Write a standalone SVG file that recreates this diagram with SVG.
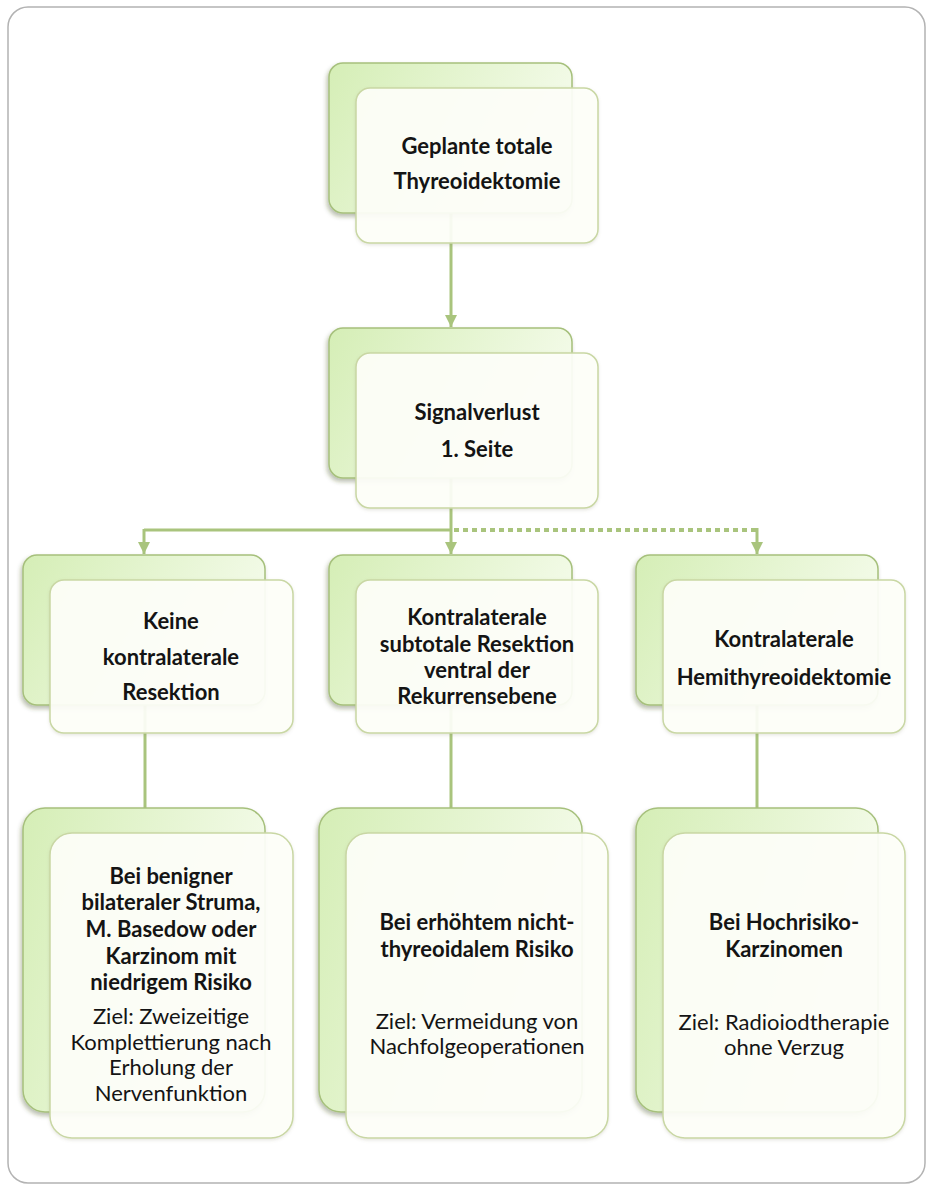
<svg xmlns="http://www.w3.org/2000/svg" width="933" height="1189" viewBox="0 0 933 1189">
<defs>
<linearGradient id="gBack" x1="0" y1="0" x2="1" y2="0.35">
<stop offset="0" stop-color="#d5eeb6"/>
<stop offset="1" stop-color="#f4fbea"/>
</linearGradient>
<filter id="shBack" x="-10%" y="-10%" width="120%" height="125%">
<feDropShadow dx="-1.5" dy="3" stdDeviation="2" flood-color="#3a4a20" flood-opacity="0.35"/>
</filter>
<filter id="shFront" x="-10%" y="-10%" width="120%" height="125%">
<feDropShadow dx="0" dy="1.5" stdDeviation="1.5" flood-color="#808060" flood-opacity="0.2"/>
</filter>
<marker id="arr" viewBox="0 0 10 10" refX="10" refY="5" markerWidth="4" markerHeight="4" orient="auto" markerUnits="strokeWidth">
<path d="M0,0 L10,5 L0,10 z" fill="#a9c47d"/>
</marker>
</defs>
<style>
.back{fill:url(#gBack);stroke:#a6c07c;stroke-width:1.5;filter:url(#shBack)}
.front{fill:#fefffa;fill-opacity:0.92;stroke:#c9d7a4;stroke-width:1.5;filter:url(#shFront)}
.conn{fill:none;stroke:#a9c47d;stroke-width:3}
.dash{stroke-dasharray:5 4;stroke-width:4}
.b{font-family:Lato,"Liberation Sans",sans-serif;font-weight:bold;font-size:22px;fill:#141414;text-anchor:middle}
.r{font-family:Lato,"Liberation Sans",sans-serif;font-weight:normal;font-size:22px;fill:#141414;text-anchor:middle}
</style>
<rect x="8" y="7" width="917" height="1176" rx="20" fill="#ffffff" stroke="#b3b3b3" stroke-width="1.5"/>
<g id="connectors">
<line class="conn" x1="451" y1="213" x2="451" y2="327" marker-end="url(#arr)"/>
<line class="conn" x1="451" y1="478" x2="451" y2="530"/>
<line class="conn" x1="144" y1="530" x2="451" y2="530"/>
<line class="conn dash" x1="454" y1="530" x2="757" y2="530"/>
<line class="conn" x1="144" y1="529" x2="144" y2="554" marker-end="url(#arr)"/>
<line class="conn" x1="451" y1="530" x2="451" y2="554" marker-end="url(#arr)"/>
<line class="conn" x1="757" y1="528" x2="757" y2="554" marker-end="url(#arr)"/>
<line class="conn" x1="145" y1="705" x2="145" y2="808"/>
<line class="conn" x1="451" y1="705" x2="451" y2="808"/>
<line class="conn" x1="757" y1="705" x2="757" y2="808"/>
</g>
<g id="node-start">
<rect class="back" x="329" y="63" width="243" height="150" rx="14"/>
<rect class="front" x="356" y="88" width="242" height="155" rx="14"/>
<text class="b" x="477" y="154">Geplante totale</text>
<text class="b" x="477" y="189">Thyreoidektomie</text>
</g>
<g id="node-signal">
<rect class="back" x="329" y="328" width="243" height="150" rx="14"/>
<rect class="front" x="356" y="353" width="242" height="155" rx="14"/>
<text class="b" x="477" y="420">Signalverlust</text>
<text class="b" x="477" y="457">1. Seite</text>
</g>
<g id="node-keine">
<rect class="back" x="23" y="555" width="242" height="150" rx="14"/>
<rect class="front" x="50" y="580" width="243" height="153" rx="14"/>
<text class="b" x="171" y="629">Keine</text>
<text class="b" x="171" y="665">kontralaterale</text>
<text class="b" x="171" y="700">Resektion</text>
</g>
<g id="node-subtotal">
<rect class="back" x="329" y="555" width="243" height="150" rx="14"/>
<rect class="front" x="356" y="580" width="242" height="153" rx="14"/>
<text class="b" x="477" y="625">Kontralaterale</text>
<text class="b" x="477" y="652">subtotale Resektion</text>
<text class="b" x="477" y="678">ventral der</text>
<text class="b" x="477" y="704">Rekurrensebene</text>
</g>
<g id="node-hemi">
<rect class="back" x="636" y="555" width="242" height="150" rx="14"/>
<rect class="front" x="663" y="580" width="242" height="153" rx="14"/>
<text class="b" x="784" y="647">Kontralaterale</text>
<text class="b" x="784" y="685">Hemithyreoidektomie</text>
</g>
<g id="node-benign">
<rect class="back" x="23" y="808" width="242" height="304" rx="22"/>
<rect class="front" x="50" y="833" width="243" height="305" rx="22"/>
<text class="b" x="171" y="884">Bei benigner</text>
<text class="b" x="171" y="910">bilateraler Struma,</text>
<text class="b" x="171" y="937">M. Basedow oder</text>
<text class="b" x="171" y="964">Karzinom mit</text>
<text class="b" x="171" y="990">niedrigem Risiko</text>
<text class="r" x="171" y="1024">Ziel: Zweizeitige</text>
<text class="r" x="171" y="1050">Komplettierung nach</text>
<text class="r" x="171" y="1075">Erholung der</text>
<text class="r" x="171" y="1101">Nervenfunktion</text>
</g>
<g id="node-risk">
<rect class="back" x="319" y="808" width="263" height="304" rx="22"/>
<rect class="front" x="346" y="833" width="262" height="305" rx="22"/>
<text class="b" x="477" y="930">Bei erhöhtem nicht-</text>
<text class="b" x="477" y="957">thyreoidalem Risiko</text>
<text class="r" x="477" y="1029">Ziel: Vermeidung von</text>
<text class="r" x="477" y="1054">Nachfolgeoperationen</text>
</g>
<g id="node-high">
<rect class="back" x="636" y="808" width="242" height="304" rx="22"/>
<rect class="front" x="663" y="833" width="242" height="305" rx="22"/>
<text class="b" x="784" y="930">Bei Hochrisiko-</text>
<text class="b" x="784" y="957">Karzinomen</text>
<text class="r" x="784" y="1030">Ziel: Radioiodtherapie</text>
<text class="r" x="784" y="1055">ohne Verzug</text>
</g>
</svg>
